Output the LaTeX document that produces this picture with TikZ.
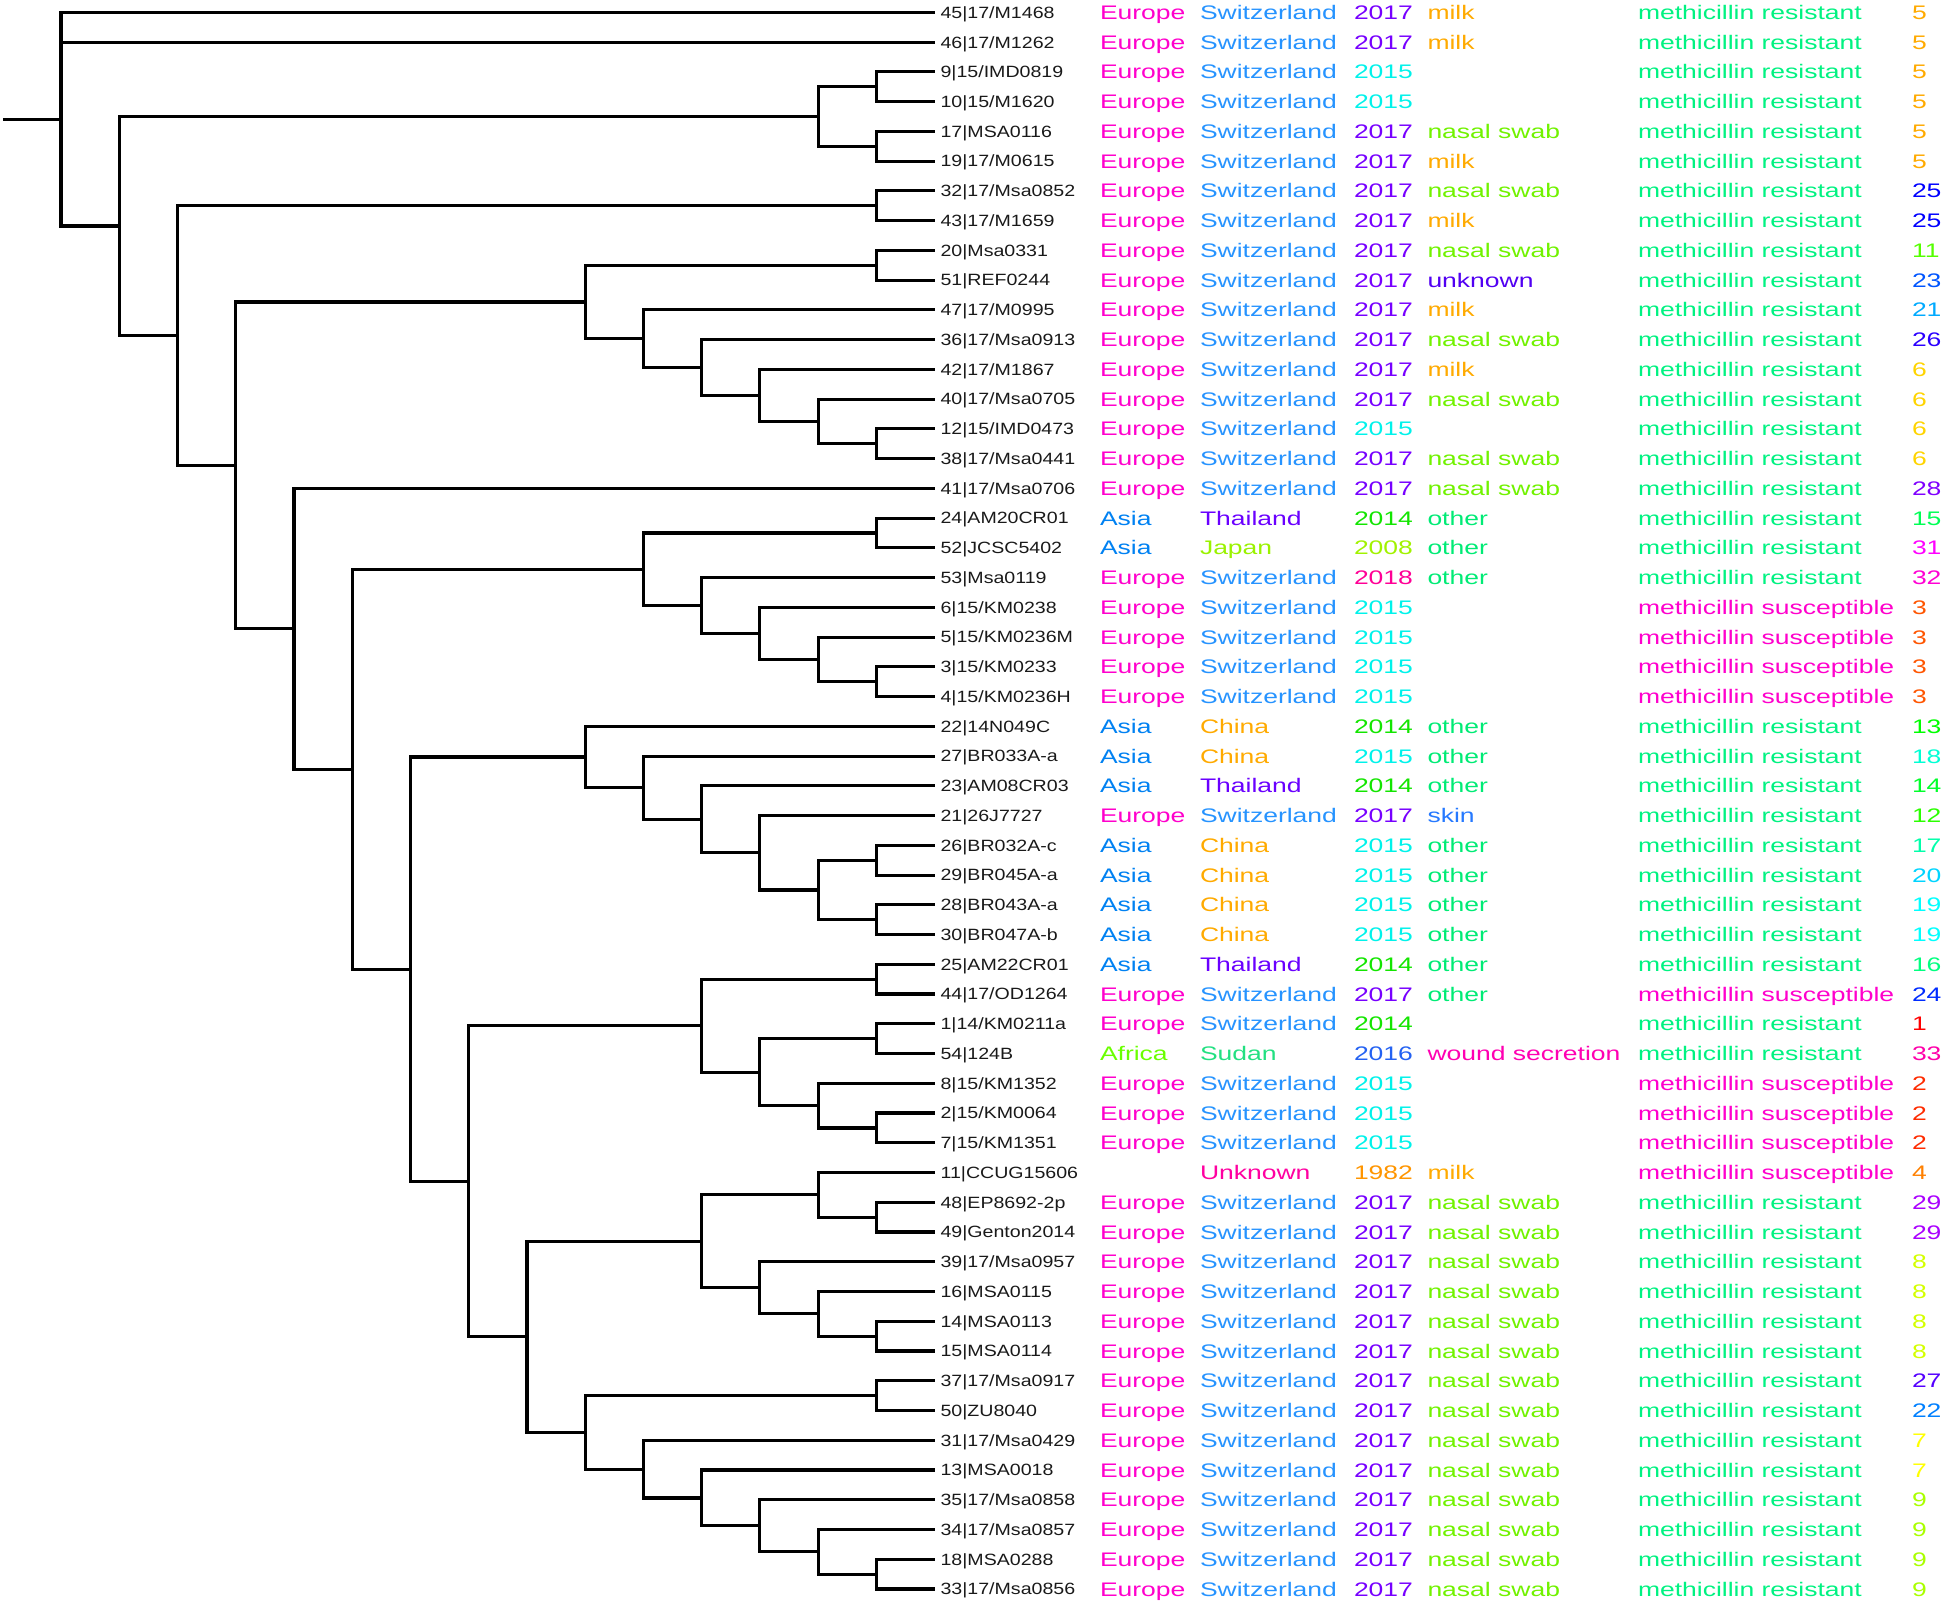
\PassOptionsToPackage{rgb}{xcolor}
\documentclass[tikz,border=0pt]{standalone}
\usepackage{fontspec}
\setmainfont{Liberation Sans}[FakeStretch=1.35]
\newfontfamily\leaffont{Liberation Sans}[FakeStretch=1.2]
\usepackage{tikz}

%% column colours
\definecolor{colEurope}{Hsb}{312,1,1}
\definecolor{colAsia}{Hsb}{208,1,0.95}
\definecolor{colAfrica}{Hsb}{95,1,1}
\definecolor{colSwitzerland}{Hsb}{210,0.85,1}
\definecolor{colThailand}{Hsb}{265,1,1}
\definecolor{colJapan}{Hsb}{82,1,0.95}
\definecolor{colChina}{Hsb}{40,1,1}
\definecolor{colSudan}{Hsb}{150,0.85,0.88}
\definecolor{colUnknown}{Hsb}{322,1,1}
\definecolor{col2017}{Hsb}{268,1,1}
\definecolor{col2015}{Hsb}{178,1,0.95}
\definecolor{col2014}{Hsb}{115,1,0.9}
\definecolor{col2008}{Hsb}{80,1,0.95}
\definecolor{col2018}{Hsb}{325,1,1}
\definecolor{col2016}{Hsb}{222,0.85,0.95}
\definecolor{col1982}{Hsb}{35,1,1}
\definecolor{colmilk}{Hsb}{40,1,1}
\definecolor{colswab}{Hsb}{92,1,0.95}
\definecolor{colother}{Hsb}{150,1,0.92}
\definecolor{colskin}{Hsb}{217,0.85,1}
\definecolor{colunknownsrc}{Hsb}{260,1,0.95}
\definecolor{colwound}{Hsb}{318,1,1}
\definecolor{colresistant}{Hsb}{152,1,0.95}
\definecolor{colsusceptible}{Hsb}{312,1,1}

\begin{document}
\begin{tikzpicture}
[x=0.01cm, y=-0.2973cm,%
    branchDecorate/.style={black,line width=0.9pt,to path={|- (\tikztotarget)}},%
    leafDecorate/.style={anchor=west,inner xsep=1.7pt,inner ysep=0pt,outer sep=0pt,text height=3.33pt,text depth=0pt,text=black!90,font=\leaffont\fontsize{4.64pt}{5pt}\selectfont},%
    metaDecorate/.style={anchor=west,inner sep=0pt,outer sep=0pt,text height=3.98pt,text depth=0pt,font=\fontsize{5.58pt}{6pt}\selectfont}]
    \useasboundingbox (0,-0.417) rectangle (1944,53.572);
    %% leaf labels
    \foreach \row/\leafname in {0/{45|17/M1468}, 1/{46|17/M1262}, 2/{9|15/IMD0819}, 3/{10|15/M1620}, 4/{17|MSA0116}, 5/{19|17/M0615}, 6/{32|17/Msa0852}, 7/{43|17/M1659}, 8/{20|Msa0331}, 9/{51|REF0244}, 10/{47|17/M0995}, 11/{36|17/Msa0913}, 12/{42|17/M1867}, 13/{40|17/Msa0705}, 14/{12|15/IMD0473}, 15/{38|17/Msa0441}, 16/{41|17/Msa0706}, 17/{24|AM20CR01}, 18/{52|JCSC5402}, 19/{53|Msa0119}, 20/{6|15/KM0238}, 21/{5|15/KM0236M}, 22/{3|15/KM0233}, 23/{4|15/KM0236H}, 24/{22|14N049C}, 25/{27|BR033A-a}, 26/{23|AM08CR03}, 27/{21|26J7727}, 28/{26|BR032A-c}, 29/{29|BR045A-a}, 30/{28|BR043A-a}, 31/{30|BR047A-b}, 32/{25|AM22CR01}, 33/{44|17/OD1264}, 34/{1|14/KM0211a}, 35/{54|124B}, 36/{8|15/KM1352}, 37/{2|15/KM0064}, 38/{7|15/KM1351}, 39/{11|CCUG15606}, 40/{48|EP8692-2p}, 41/{49|Genton2014}, 42/{39|17/Msa0957}, 43/{16|MSA0115}, 44/{14|MSA0113}, 45/{15|MSA0114}, 46/{37|17/Msa0917}, 47/{50|ZU8040}, 48/{31|17/Msa0429}, 49/{13|MSA0018}, 50/{35|17/Msa0858}, 51/{34|17/Msa0857}, 52/{18|MSA0288}, 53/{33|17/Msa0856}}
    {
        \node (l\row) at (934.6,\row) [leafDecorate] {\leafname};
    }
    %% inner nodes: name/level/row
    \foreach \nodename/\lev/\y in {a23/15/2.5, a45/15/4.5, a25/14/3.5, a67/15/6.5, a89/15/8.5, a1415/15/14.5, a1315/14/13.75, a1215/13/12.875, a1115/12/11.9375, a1015/11/10.96875, a815/10/9.734375, a1718/15/17.5, a2223/15/22.5, a2123/14/21.75, a2023/13/20.875, a1923/12/19.9375, a1723/11/18.71875, a2829/15/28.5, a3031/15/30.5, a2831/14/29.5, a2731/13/28.25, a2631/12/27.125, a2531/11/26.0625, a2431/10/25.03125, a3233/15/32.5, a3435/15/34.5, a3738/15/37.5, a3638/14/36.75, a3438/13/35.625, a3238/12/34.0625, a4041/15/40.5, a3941/14/39.75, a4445/15/44.5, a4345/14/43.75, a4245/13/42.875, a3945/12/41.3125, a4647/15/46.5, a5253/15/52.5, a5153/14/51.75, a5053/13/50.875, a4953/12/49.9375, a4853/11/48.96875, a4653/10/47.734375, a3953/9/44.5234, a3253/8/39.2930, a2453/7/32.1621, a1753/6/25.4404, a1653/5/20.7202, a853/4/15.2273, a653/3/10.8636, a253/2/7.1818, root/1/3.5909, stub/0/3.5909}
    {
        \coordinate (\nodename) at ({2.76+58.24*\lev},\y);
    }
    %% branches
    \path\foreach \startnode/\endnode in {stub/root, root/l0, root/l1, root/a253, a253/a25, a253/a653, a25/a23, a25/a45, a23/l2, a23/l3, a45/l4, a45/l5, a653/a67, a653/a853, a67/l6, a67/l7, a853/a815, a853/a1653, a815/a89, a815/a1015, a89/l8, a89/l9, a1015/l10, a1015/a1115, a1115/l11, a1115/a1215, a1215/l12, a1215/a1315, a1315/l13, a1315/a1415, a1415/l14, a1415/l15, a1653/l16, a1653/a1753, a1753/a1723, a1753/a2453, a1723/a1718, a1723/a1923, a1718/l17, a1718/l18, a1923/l19, a1923/a2023, a2023/l20, a2023/a2123, a2123/l21, a2123/a2223, a2223/l22, a2223/l23, a2453/a2431, a2453/a3253, a2431/l24, a2431/a2531, a2531/l25, a2531/a2631, a2631/l26, a2631/a2731, a2731/l27, a2731/a2831, a2831/a2829, a2831/a3031, a2829/l28, a2829/l29, a3031/l30, a3031/l31, a3253/a3238, a3253/a3953, a3238/a3233, a3238/a3438, a3233/l32, a3233/l33, a3438/a3435, a3438/a3638, a3435/l34, a3435/l35, a3638/l36, a3638/a3738, a3738/l37, a3738/l38, a3953/a3945, a3953/a4653, a3945/a3941, a3945/a4245, a3941/l39, a3941/a4041, a4041/l40, a4041/l41, a4245/l42, a4245/a4345, a4345/l43, a4345/a4445, a4445/l44, a4445/l45, a4653/a4647, a4653/a4853, a4647/l46, a4647/l47, a4853/l48, a4853/a4953, a4953/l49, a4953/a5053, a5053/l50, a5053/a5153, a5153/l51, a5153/a5253, a5253/l52, a5253/l53}
    {
        (\startnode) edge[branchDecorate] (\endnode)
    };
    %% continent
    \foreach \txt/\rows in {Europe/{0,...,16,19,20,...,23,27,33,34,36,37,38,40,41,...,53}, Asia/{17,18,24,25,26,28,29,...,32}, Africa/{35}}
    {
        \foreach \row in \rows
            \node (cont\row) at (1100,\row) [metaDecorate,text=col\txt] {\txt};
    }
    %% country
    \foreach \txt/\rows in {Switzerland/{0,...,16,19,20,...,23,27,33,34,36,37,38,40,41,...,53}, Thailand/{17,26,32}, Japan/{18}, China/{24,25,28,29,30,31}, Sudan/{35}, Unknown/{39}}
    {
        \foreach \row in \rows
            \node (ctry\row) at (1200,\row) [metaDecorate,text=col\txt] {\txt};
    }
    %% year
    \foreach \txt/\rows in {2017/{0,1,4,5,...,13,15,16,27,33,40,41,...,53}, 2015/{2,3,14,20,21,22,23,25,28,29,30,31,36,37,38}, 2014/{17,24,26,32,34}, 2008/{18}, 2018/{19}, 2016/{35}, 1982/{39}}
    {
        \foreach \row in \rows
            \node (yr\row) at (1354,\row) [metaDecorate,text=col\txt] {\txt};
    }
    %% source
    \foreach \txt/\colname/\rows in {milk/colmilk/{0,1,5,7,10,12,39}, nasal swab/colswab/{4,6,8,11,13,15,16,40,41,...,53}, unknown/colunknownsrc/{9}, other/colother/{17,18,19,24,25,26,28,29,...,33}, skin/colskin/{27}, wound secretion/colwound/{35}}
    {
        \foreach \row in \rows
            \node (src\row) at (1427.5,\row) [metaDecorate,text=\colname] {\txt};
    }
    %% resistance
    \foreach \txt/\colname/\rows in {methicillin resistant/colresistant/{0,...,19,24,25,...,32,34,35,40,41,...,53}, methicillin susceptible/colsusceptible/{20,21,22,23,33,36,37,38,39}}
    {
        \foreach \row in \rows
            \node (res\row) at (1638,\row) [metaDecorate,text=\colname] {\txt};
    }
    %% sequence type
    \foreach \txt/\rows in {5/{0,...,5}, 25/{6,7}, 11/{8}, 23/{9}, 21/{10}, 26/{11}, 6/{12,13,14,15}, 28/{16}, 15/{17}, 31/{18}, 32/{19}, 3/{20,21,22,23}, 13/{24}, 18/{25}, 14/{26}, 12/{27}, 17/{28}, 20/{29}, 19/{30,31}, 16/{32}, 24/{33}, 1/{34}, 33/{35}, 2/{36,37,38}, 4/{39}, 29/{40,41}, 8/{42,43,44,45}, 27/{46}, 22/{47}, 7/{48,49}, 9/{50,51,52,53}}
    {
        \pgfmathsetmacro\hue{10*(\txt-1)}
        \definecolor{stcol}{Hsb}{\hue,1,1}
        \foreach \row in \rows
            \node (st\row) at (1912,\row) [metaDecorate,text=stcol] {\txt};
    }
\end{tikzpicture}
\end{document}
